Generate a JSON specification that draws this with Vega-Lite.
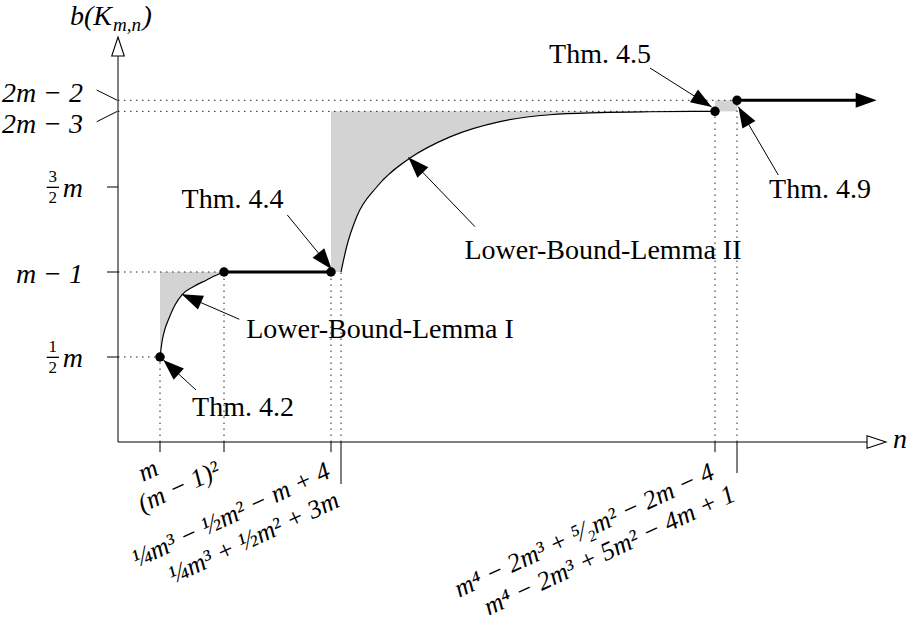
{
  "$schema": "https://vega.github.io/schema/vega-lite/v6.json",
  "width": 792,
  "height": 442,
  "autosize": {"type": "none"},
  "padding": {"left": 118, "top": 0, "right": 0, "bottom": 186},
  "background": "white",
  "config": {
    "view": {"stroke": null},
    "text": {"font": "'Liberation Serif', 'DejaVu Serif', serif", "fontSize": 28, "color": "black"}
  },
  "datasets": {
    "curves": [
      {"part": "I", "cap": 2, "x": 0.42, "y": 1.0},
      {"part": "I", "cap": 2, "x": 0.443, "y": 1.2},
      {"part": "I", "cap": 2, "x": 0.47, "y": 1.33},
      {"part": "I", "cap": 2, "x": 0.503, "y": 1.435},
      {"part": "I", "cap": 2, "x": 0.57, "y": 1.612},
      {"part": "I", "cap": 2, "x": 0.637, "y": 1.729},
      {"part": "I", "cap": 2, "x": 0.753, "y": 1.827},
      {"part": "I", "cap": 2, "x": 0.887, "y": 1.906},
      {"part": "I", "cap": 2, "x": 0.97, "y": 1.955},
      {"part": "I", "cap": 2, "x": 1.06, "y": 2.0},
      {"part": "II", "cap": 3.89, "x": 2.23, "y": 2.0},
      {"part": "II", "cap": 3.89, "x": 2.287, "y": 2.3},
      {"part": "II", "cap": 3.89, "x": 2.387, "y": 2.65},
      {"part": "II", "cap": 3.89, "x": 2.587, "y": 3.0},
      {"part": "II", "cap": 3.89, "x": 2.92, "y": 3.34},
      {"part": "II", "cap": 3.89, "x": 3.32, "y": 3.59},
      {"part": "II", "cap": 3.89, "x": 3.82, "y": 3.77},
      {"part": "II", "cap": 3.89, "x": 4.32, "y": 3.85},
      {"part": "II", "cap": 3.89, "x": 4.82, "y": 3.875},
      {"part": "II", "cap": 3.89, "x": 5.32, "y": 3.885},
      {"part": "II", "cap": 3.89, "x": 5.97, "y": 3.89}
    ],
    "strips": [
      {"x": 2.13, "x2": 2.235, "y": 2, "y2": 3.89},
      {"x": 5.97, "x2": 6.19, "y": 3.89, "y2": 4.02}
    ],
    "guides": [
      {"x": 0, "y": 1, "x2": 0.42, "y2": 1},
      {"x": 0, "y": 2, "x2": 1.06, "y2": 2},
      {"x": 0, "y": 3.89, "x2": 5.97, "y2": 3.89},
      {"x": 0, "y": 4.02, "x2": 6.19, "y2": 4.02},
      {"x": 0.42, "y": 0, "x2": 0.42, "y2": 1},
      {"x": 1.06, "y": 0, "x2": 1.06, "y2": 2},
      {"x": 2.13, "y": 0, "x2": 2.13, "y2": 2},
      {"x": 2.23, "y": 0, "x2": 2.23, "y2": 2},
      {"x": 5.97, "y": 0, "x2": 5.97, "y2": 3.89},
      {"x": 6.19, "y": 0, "x2": 6.19, "y2": 4.02}
    ],
    "frame": [
      {"x": 0, "y": 0, "x2": 7.49, "y2": 0},
      {"x": 0, "y": 0, "x2": 0, "y2": 4.54},
      {"x": -0.11, "y": 1, "x2": 0, "y2": 1},
      {"x": -0.11, "y": 2, "x2": 0, "y2": 2},
      {"x": -0.11, "y": 3, "x2": 0, "y2": 3},
      {"x": -0.213, "y": 4.141, "x2": -0.007, "y2": 4.02},
      {"x": -0.213, "y": 3.768, "x2": -0.007, "y2": 3.89},
      {"x": 0.42, "y": 0, "x2": 0.42, "y2": -0.12},
      {"x": 1.06, "y": 0, "x2": 1.06, "y2": -0.12},
      {"x": 2.13, "y": 0, "x2": 2.13, "y2": -0.12},
      {"x": 2.23, "y": 0, "x2": 2.23, "y2": -0.494},
      {"x": 5.97, "y": 0, "x2": 5.97, "y2": -0.12},
      {"x": 6.19, "y": 0, "x2": 6.19, "y2": -0.365}
    ],
    "fracbars": [
      {"x": -0.713, "y": 0.996, "x2": -0.59, "y2": 0.996},
      {"x": -0.713, "y": 2.996, "x2": -0.59, "y2": 2.996}
    ],
    "axisheads": [
      {"axis": "b", "x": 0, "y": 4.765},
      {"axis": "n", "x": 7.68, "y": 0}
    ],
    "thick": [
      {"x": 1.06, "y": 2, "x2": 2.13, "y2": 2},
      {"x": 6.19, "y": 4.02, "x2": 7.5, "y2": 4.02}
    ],
    "dots": [
      {"x": 0.42, "y": 1},
      {"x": 1.06, "y": 2},
      {"x": 2.13, "y": 2},
      {"x": 5.97, "y": 3.89},
      {"x": 6.19, "y": 4.02}
    ],
    "arrows": [
      {"label": "Thm. 4.2", "x": 0.78, "y": 0.612, "x2": 0.453, "y2": 0.965},
      {"label": "Lower-Bound-Lemma I", "x": 1.213, "y": 1.444, "x2": 0.637, "y2": 1.738},
      {"label": "Thm. 4.4", "x": 1.693, "y": 2.671, "x2": 2.137, "y2": 2.032},
      {"label": "Lower-Bound-Lemma II", "x": 3.57, "y": 2.533, "x2": 2.903, "y2": 3.349},
      {"label": "Thm. 4.5", "x": 5.32, "y": 4.4, "x2": 5.937, "y2": 3.941},
      {"label": "Thm. 4.9", "x": 6.603, "y": 3.141, "x2": 6.203, "y2": 3.945},
      {"label": "ray", "x": 6.19, "y": 4.02, "x2": 7.587, "y2": 4.02}
    ],
    "notes": [
      {"label": "Thm. 4.2", "x": 1.25, "y": 0.306},
      {"label": "Lower-Bound-Lemma I", "x": 2.62, "y": 1.224},
      {"label": "Thm. 4.4", "x": 1.145, "y": 2.753},
      {"label": "Lower-Bound-Lemma II", "x": 4.85, "y": 2.153},
      {"label": "Thm. 4.5", "x": 4.82, "y": 4.459},
      {"label": "Thm. 4.9", "x": 7.02, "y": 2.871}
    ],
    "ylabels": [
      {"label": "2m − 2", "x": -0.35, "y": 4.004},
      {"label": "2m − 3", "x": -0.35, "y": 3.632},
      {"label": "m", "x": -0.35, "y": 2.882},
      {"label": "m − 1", "x": -0.35, "y": 1.867},
      {"label": "m", "x": -0.35, "y": 0.882}
    ],
    "fracdigits": [
      {"label": "3", "x": -0.652, "y": 3.059},
      {"label": "2", "x": -0.652, "y": 2.812},
      {"label": "1", "x": -0.652, "y": 1.059},
      {"label": "2", "x": -0.652, "y": 0.812}
    ],
    "xlabels": [
      {"label": "m", "x": 0.42, "y": -0.376},
      {"label": "(m − 1)²", "x": 1.04, "y": -0.4},
      {"label": "¼m³ − ½m² − m + 4", "x": 2.14, "y": -0.412},
      {"label": "¼m³ + ½m² + 3m", "x": 2.23, "y": -0.753},
      {"label": "m⁴ − 2m³ + ⁵⁄₂m² − 2m − 4", "x": 5.98, "y": -0.424},
      {"label": "m⁴ − 2m³ + 5m² − 4m + 1", "x": 6.19, "y": -0.682}
    ],
    "titlebig": [
      {"label": "b(K", "x": -0.48, "y": 4.906},
      {"label": ")", "x": 0.245, "y": 4.906}
    ],
    "titlesub": [
      {"label": "m,n", "x": -0.05, "y": 4.835}
    ],
    "axisnames": [
      {"label": "n", "x": 7.75, "y": -0.07}
    ]
  },
  "encoding": {
    "x": {"field": "x", "type": "quantitative", "scale": {"domain": [0, 7.92], "nice": false, "zero": false}, "axis": null},
    "y": {"field": "y", "type": "quantitative", "scale": {"domain": [0, 5.2], "nice": false, "zero": false}, "axis": null}
  },
  "layer": [
    {
      "data": {"name": "curves"},
      "mark": {"type": "area", "interpolate": "monotone", "color": "#d3d3d3", "opacity": 1},
      "encoding": {
        "y": {"field": "y", "type": "quantitative", "stack": null, "scale": {"domain": [0, 5.2], "nice": false, "zero": false}, "axis": null},
        "y2": {"field": "cap"},
        "detail": {"field": "part"}
      }
    },
    {
      "data": {"name": "strips"},
      "mark": {"type": "rect", "color": "#d3d3d3"},
      "encoding": {"x2": {"field": "x2"}, "y2": {"field": "y2"}}
    },
    {
      "data": {"name": "guides"},
      "mark": {"type": "rule", "color": "#222222", "strokeWidth": 1, "strokeDash": [1.5, 4.5]},
      "encoding": {"x2": {"field": "x2"}, "y2": {"field": "y2"}}
    },
    {
      "data": {"name": "frame"},
      "mark": {"type": "rule", "color": "black", "strokeWidth": 1},
      "encoding": {"x2": {"field": "x2"}, "y2": {"field": "y2"}}
    },
    {
      "data": {"name": "fracbars"},
      "mark": {"type": "rule", "color": "black", "strokeWidth": 1.3},
      "encoding": {"x2": {"field": "x2"}, "y2": {"field": "y2"}}
    },
    {
      "data": {"name": "axisheads"},
      "transform": [{"filter": "datum.axis == 'b'"}],
      "mark": {"type": "point", "shape": "M0,0L0.33,1L-0.33,1Z", "filled": true, "color": "white", "stroke": "black", "strokeWidth": 1.1, "size": 1444, "opacity": 1, "angle": 0}
    },
    {
      "data": {"name": "axisheads"},
      "transform": [{"filter": "datum.axis == 'n'"}],
      "mark": {"type": "point", "shape": "M0,0L0.33,1L-0.33,1Z", "filled": true, "color": "white", "stroke": "black", "strokeWidth": 1.1, "size": 1444, "opacity": 1, "angle": 90}
    },
    {
      "data": {"name": "curves"},
      "mark": {"type": "line", "interpolate": "monotone", "color": "black", "strokeWidth": 1.2},
      "encoding": {"detail": {"field": "part"}}
    },
    {
      "data": {"name": "thick"},
      "mark": {"type": "rule", "color": "black", "strokeWidth": 3, "strokeCap": "butt"},
      "encoding": {"x2": {"field": "x2"}, "y2": {"field": "y2"}}
    },
    {
      "data": {"name": "dots"},
      "mark": {"type": "circle", "color": "black", "size": 90, "opacity": 1}
    },
    {
      "data": {"name": "arrows"},
      "transform": [{"filter": "datum.label != 'ray'"}],
      "mark": {"type": "rule", "color": "black", "strokeWidth": 1},
      "encoding": {"x2": {"field": "x2"}, "y2": {"field": "y2"}}
    },
    {
      "data": {"name": "arrows"},
      "transform": [
        {"calculate": "atan2((datum.x2 - datum.x) * 100, (datum.y2 - datum.y) * 85) * 180 / PI", "as": "ang"}
      ],
      "mark": {"type": "point", "shape": "M0,0L0.36,1L-0.36,1Z", "filled": true, "color": "black", "size": 1764, "opacity": 1},
      "encoding": {
        "x": {"field": "x2", "type": "quantitative", "scale": {"domain": [0, 7.92], "nice": false, "zero": false}, "axis": null},
        "y": {"field": "y2", "type": "quantitative", "scale": {"domain": [0, 5.2], "nice": false, "zero": false}, "axis": null},
        "angle": {"field": "ang", "type": "quantitative", "scale": null}
      }
    },
    {
      "data": {"name": "notes"},
      "mark": {"type": "text", "align": "center", "baseline": "alphabetic", "fontSize": 28},
      "encoding": {"text": {"field": "label"}}
    },
    {
      "data": {"name": "ylabels"},
      "mark": {"type": "text", "align": "right", "baseline": "alphabetic", "fontSize": 28, "fontStyle": "italic"},
      "encoding": {"text": {"field": "label"}}
    },
    {
      "data": {"name": "fracdigits"},
      "mark": {"type": "text", "align": "center", "baseline": "alphabetic", "fontSize": 17},
      "encoding": {"text": {"field": "label"}}
    },
    {
      "data": {"name": "xlabels"},
      "mark": {"type": "text", "align": "right", "baseline": "alphabetic", "fontSize": 26, "fontStyle": "italic", "angle": -25},
      "encoding": {"text": {"field": "label"}}
    },
    {
      "data": {"name": "titlebig"},
      "mark": {"type": "text", "align": "left", "baseline": "alphabetic", "fontSize": 28, "fontStyle": "italic"},
      "encoding": {"text": {"field": "label"}}
    },
    {
      "data": {"name": "titlesub"},
      "mark": {"type": "text", "align": "left", "baseline": "alphabetic", "fontSize": 19, "fontStyle": "italic"},
      "encoding": {"text": {"field": "label"}}
    },
    {
      "data": {"name": "axisnames"},
      "mark": {"type": "text", "align": "left", "baseline": "alphabetic", "fontSize": 28, "fontStyle": "italic"},
      "encoding": {"text": {"field": "label"}}
    }
  ]
}
